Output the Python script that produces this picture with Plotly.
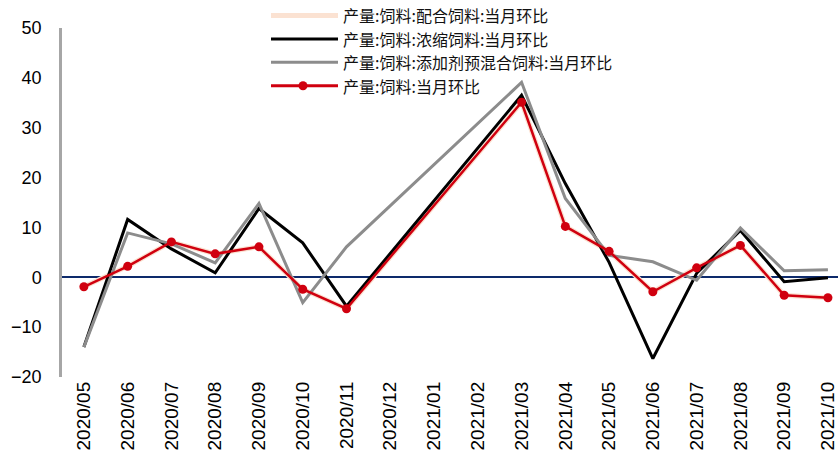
import plotly.graph_objects as go

months = ["2020/05", "2020/06", "2020/07", "2020/08", "2020/09", "2020/10", "2020/11",
          "2020/12", "2021/01", "2021/02", "2021/03", "2021/04", "2021/05", "2021/06",
          "2021/07", "2021/08", "2021/09", "2021/10"]

peihe = [-1.9, 2.2, 7.1, 4.7, 6.1, -2.4, -6.3, None, None, None, 35.1, 10.2, 5.2, -2.9, 1.9, 6.4, -3.6, -4.1]
nongsuo = [-14.0, 11.6, 5.7, 0.9, 13.8, 6.9, -5.8, None, None, None, 36.5, 18.8, 3.0, -16.3, 0.8, 9.4, -0.9, -0.1]
tianjia = [-14.0, 8.9, 6.7, 2.9, 14.8, -5.1, 6.1, None, None, None, 39.1, 15.8, 4.4, 3.1, -0.6, 9.9, 1.3, 1.5]
total = [-1.9, 2.2, 7.1, 4.7, 6.1, -2.4, -6.3, None, None, None, 35.1, 10.2, 5.2, -2.9, 1.9, 6.4, -3.6, -4.1]

names = ["产量:饲料:配合饲料:当月环比", "产量:饲料:浓缩饲料:当月环比",
         "产量:饲料:添加剂预混合饲料:当月环比", "产量:饲料:当月环比"]
colors = ["#FBE2D2", "#000000", "#8C8C8C", "#D0000F"]

W, H = 838, 454
ML, MR, MT, MB = 62, 0, 28, 77
PW, PH = W - ML - MR, H - MT - MB

fig = go.Figure()
fig.add_trace(go.Scatter(x=months, y=peihe, name=names[0], mode="lines", connectgaps=True,
                         line=dict(color=colors[0], width=5)))
fig.add_trace(go.Scatter(x=months, y=nongsuo, name=names[1], mode="lines", connectgaps=True,
                         line=dict(color=colors[1], width=3)))
fig.add_trace(go.Scatter(x=months, y=tianjia, name=names[2], mode="lines", connectgaps=True,
                         line=dict(color=colors[2], width=3)))
fig.add_trace(go.Scatter(x=months, y=total, name=names[3], mode="lines+markers", connectgaps=True,
                         line=dict(color=colors[3], width=2.5),
                         marker=dict(color=colors[3], size=9)))


def px_x(p):
    return (p - ML) / PW


def px_y(p):
    return (H - MB - p) / PH


# custom legend (layout only)
LEG_FS = 16
row_gap = 23.4
row0 = 15.5
legend_rows = [row0 + k * row_gap for k in range(4)]
for i, (nm, col) in enumerate(zip(names, colors)):
    yy = px_y(legend_rows[i])
    fig.add_shape(type="line", xref="paper", yref="paper",
                  x0=px_x(271), x1=px_x(338), y0=yy, y1=yy,
                  line=dict(color=col, width=5 if i == 0 else 3))
    if i == 3:
        fig.add_shape(type="circle", xref="paper", yref="paper",
                      x0=px_x(298.5), x1=px_x(307.5), y0=px_y(legend_rows[i] + 4.5),
                      y1=px_y(legend_rows[i] - 4.5),
                      fillcolor=col, line=dict(color=col, width=0))
    fig.add_annotation(text=nm, xref="paper", yref="paper", x=px_x(342), y=yy,
                       xanchor="left", yanchor="middle", showarrow=False, borderpad=0,
                       font=dict(size=LEG_FS, family="Noto Sans CJK SC", color="#111111"))

fig.update_layout(
    width=W, height=H,
    margin=dict(l=ML, r=MR, t=MT, b=MB),
    paper_bgcolor="white", plot_bgcolor="white",
    font=dict(family="Liberation Sans, Arial, Noto Sans CJK SC", color="#000000"),
    showlegend=False,
)
fig.update_xaxes(type="category", range=[-0.5, 17.23], showgrid=False, zeroline=False,
                 showline=False, ticks="", tickangle=-90, tickfont=dict(size=19),
                 categoryorder="array", categoryarray=months)
fig.update_yaxes(range=[-20, 50], dtick=10, showgrid=False, zeroline=True,
                 zerolinecolor="#0D2A6B", zerolinewidth=2,
                 showline=True, linecolor="#A6A6A6", linewidth=2.5, ticks="",
                 tickfont=dict(size=18), ticklabelstandoff=14)

fig.write_html("out.html")
